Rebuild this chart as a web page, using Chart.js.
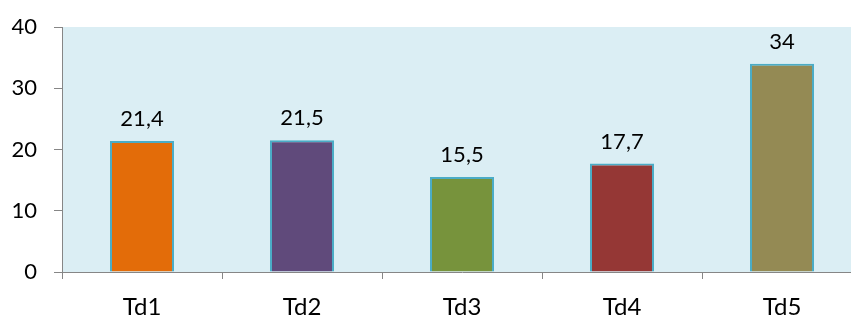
<!DOCTYPE html>
<html>
<head>
<meta charset="utf-8">
<script src="https://cdn.jsdelivr.net/npm/chart.js@4/dist/chart.umd.min.js"></script>
<style>
  html, body { margin: 0; padding: 0; background: #fff; overflow: hidden; }
  #wrap { position: relative; width: 862px; height: 316px; }
</style>
</head>
<body>
<div id="wrap"><canvas id="chart"></canvas></div>
<script>
  // Chart data
  const categories = ['Td1', 'Td2', 'Td3', 'Td4', 'Td5'];
  const values = [21.4, 21.5, 15.5, 17.7, 34];
  const barColors = ['#E36C09', '#604A7B', '#77933C', '#953735', '#948A54'];
  const yTicks = [0, 10, 20, 30, 40];

  const FONT = 'Lato, "Open Sans", sans-serif';
  const AXIS_GREY = '#868686';

  // Fill plot area with light blue
  const plotBackground = {
    id: 'plotBackground',
    beforeDraw(chart) {
      const { ctx, chartArea } = chart;
      ctx.save();
      ctx.fillStyle = '#DBEEF4';
      ctx.fillRect(chartArea.left, chartArea.top, chartArea.right - chartArea.left, chartArea.bottom - chartArea.top);
      ctx.restore();
    }
  };

  // Value labels above the bars, decimal comma
  const valueLabels = {
    id: 'valueLabels',
    afterDatasetsDraw(chart) {
      const { ctx } = chart;
      const meta = chart.getDatasetMeta(0);
      ctx.save();
      ctx.font = '22px ' + FONT;
      ctx.fillStyle = '#000';
      ctx.textAlign = 'center';
      ctx.textBaseline = 'alphabetic';
      meta.data.forEach((bar, i) => {
        const label = String(values[i]).replace('.', ',');
        ctx.fillText(label, bar.x, bar.y - 15);
      });
      ctx.restore();
    }
  };

  new Chart(document.getElementById('chart'), {
    type: 'bar',
    data: {
      labels: categories,
      datasets: [{
        data: values,
        backgroundColor: barColors,
        borderColor: '#4BACC6',
        borderWidth: 2,
        barPercentage: 0.4,
        categoryPercentage: 1
      }]
    },
    options: {
      responsive: true,
      maintainAspectRatio: false,
      animation: false,
      layout: { padding: 0 },
      plugins: {
        legend: { display: false },
        tooltip: { enabled: false }
      },
      scales: {
        x: {
          offset: true,
          grid: {
            offset: true,
            drawOnChartArea: false,
            drawTicks: true,
            tickLength: 7,
            color: AXIS_GREY
          },
          border: { display: true, color: AXIS_GREY, width: 1 },
          ticks: {
            color: '#000',
            font: { family: FONT, size: 24 },
            padding: 14,
            maxRotation: 0
          },
          afterFit(scale) { scale.height = 44; }
        },
        y: {
          min: 0,
          max: 40,
          afterBuildTicks(scale) {
            scale.ticks = yTicks.map(v => ({ value: v }));
          },
          grid: {
            drawOnChartArea: false,
            drawTicks: true,
            tickLength: 8,
            color: AXIS_GREY
          },
          border: { display: true, color: AXIS_GREY, width: 1 },
          ticks: {
            color: '#000',
            font: { family: FONT, size: 22 },
            padding: 17
          },
          afterFit(scale) {
            scale.width = 62;
            scale.paddingTop = 27;
            scale.paddingBottom = 0;
          }
        }
      }
    },
    plugins: [plotBackground, valueLabels]
  });
</script>
</body>
</html>
